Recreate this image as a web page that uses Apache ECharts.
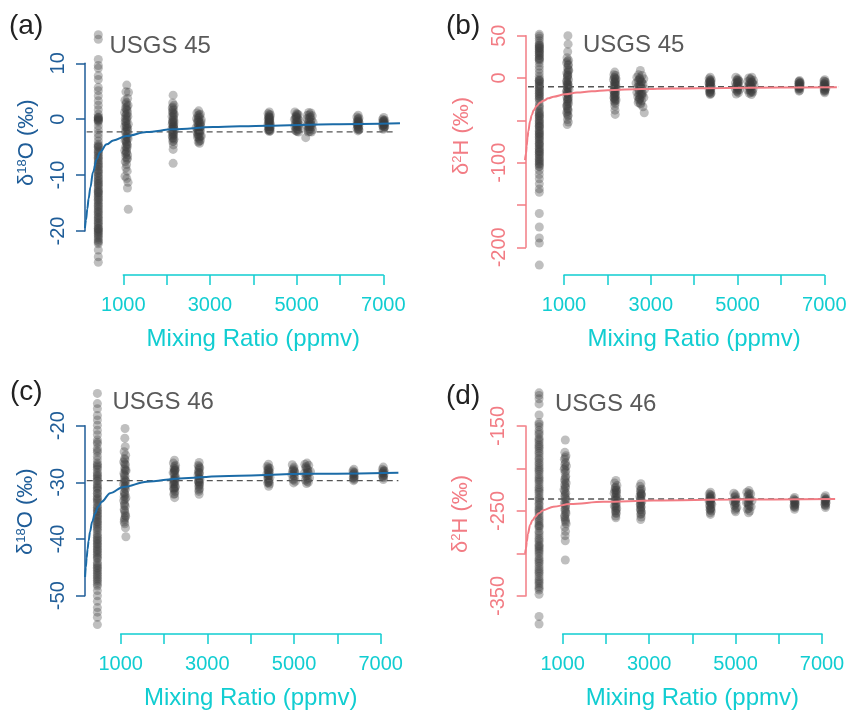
<!DOCTYPE html>
<html><head><meta charset="utf-8">
<script src="https://cdn.jsdelivr.net/npm/echarts@6/dist/echarts.min.js"></script>
<style>html,body{margin:0;padding:0;background:#fff}#c{width:851px;height:714px}</style>
</head><body><div id="c"></div>
<script>
// ---------------- DATA ----------------
const xTickLabels = [1000, 3000, 5000, 7000];
const yLabelsA = [10, 0, -10, -20];
const yLabelsB = [50, 0, -100, -200];
const yLabelsC = [-20, -30, -40, -50];
const yLabelsD = [-150, -250, -350];

// Panel (a) USGS 45, d18O
const aX1 = 423;
const a1 = [15.1, 14.3, 10.7, 9.6, 9.1, 7.8, 7.1, 5.7, 5.1, 4.2, 3.3, 2.5, 1.7, 0.9, 0.4, 0.1, -0.2, 0.3, -0.5, -1.2, -1.9, -2.6, -3.2, -3.9, -4.5, -5.0, -5.4, -5.9, -6.5, -7.0, -7.6, -8.1, -8.6, -9.2, -9.7, -10.3, -10.9, -11.4, -11.8, -12.4, -12.9, -13.5, -14.0, -14.5, -15.1, -15.6, -16.2, -16.7, -17.3, -17.8, -18.4, -18.9, -19.5, -20.0, -20.4, -20.9, -21.5, -22.3, -23.4, -24.6, -25.6, -6.2, -8.4, -10.6, -12.7, -14.3, -16.5, -18.6, -19.8, -20.7, -0.1, -4.7,
  -0.3, 0.2, -4.9, -5.7, -6.8, -7.3, -7.9, -9.0, -9.5, -10.1, -11.1, -11.6, -12.1, -13.2, -13.8, -14.8, -15.4, -15.9, -17.0, -17.6, -18.1, -19.2, -19.6, -21.2, -21.8, -22.0, -20.2, -13.1];
const a2 = [[1080,6.1],[1120,4.8],[1060,4.9],[1100,3.7],[1040,3.4],[1075,3.0],[1110,2.5],[1050,2.0],[1090,1.6],[1030,1.2],[1070,0.9],[1105,0.5],[1045,0.1],[1085,-0.2],[1060,-0.6],[1115,-0.9],[1035,-1.3],[1075,-1.6],[1095,-2.0],[1050,-2.4],[1085,-2.8],[1065,-3.1],[1110,-3.5],[1040,-3.8],[1075,-4.2],[1095,-4.6],[1055,-4.9],[1080,-5.3],[1035,-5.6],[1070,-6.0],[1100,-6.4],[1060,-6.8],[1085,-7.2],[1045,-7.6],[1075,-8.1],[1060,-8.7],[1090,-9.3],[1040,-10.2],[1080,-10.6],[1110,-11.3],[1095,-12.3],[1115,-16.1],[1065,-1.0],[1090,-3.3],[1055,0.6],[1080,-4.5],[1070,1.8],
  [1060,2.7],[1095,1.1],[1045,-0.4],[1080,-1.3],[1105,-2.6],[1060,-3.6],[1085,-5.0],[1050,-6.2],[1095,-7.0],[1070,-4.0],[1080,0.2],[1100,-1.6],[1055,-2.1],[1075,-5.8],[1085,2.2]];
const a3 = [[2150,4.3],[2140,2.9],[2170,2.5],[2130,2.0],[2160,1.7],[2145,1.2],[2175,0.9],[2125,0.5],[2155,0.2],[2140,-0.2],[2170,-0.5],[2130,-0.9],[2160,-1.2],[2150,-1.5],[2120,-1.8],[2175,-2.0],[2140,-2.3],[2160,-2.7],[2130,-3.0],[2150,-3.3],[2170,-3.6],[2140,-4.0],[2155,-4.6],[2150,-5.4],[2150,-7.9],[2145,-0.6],[2165,-1.6],[2135,1.5],[2155,-2.4],
  [2145,2.2],[2160,0.6],[2135,-0.5],[2165,-1.0],[2145,-1.9],[2155,-2.9],[2140,-3.4],[2165,-0.1],[2150,1.0],[2135,-2.6],[2160,-3.9],[2150,-1.3]];
const a4 = [[2740,1.5],[2700,1.1],[2780,0.9],[2720,0.6],[2760,0.4],[2690,0.1],[2800,-0.1],[2740,-0.3],[2710,-0.6],[2770,-0.8],[2730,-1.1],[2790,-1.3],[2680,-1.5],[2750,-1.7],[2720,-1.9],[2780,-2.1],[2700,-2.3],[2760,-2.5],[2730,-2.8],[2800,-3.0],[2710,-3.2],[2750,-3.5],[2780,-3.8],[2730,-4.1],[2760,-4.3],[2720,-2.0],[2770,-1.0],[2745,-0.5],
  [2750,0.8],[2720,-0.2],[2770,-1.5],[2740,-2.2],[2715,-2.7],[2775,-3.0],[2745,-3.2],[2735,0.2],[2765,-2.0],[2725,-1.4],[2755,-3.9],[2790,-0.6]];
const a5 = [[4370,1.3],[4340,1.0],[4395,0.8],[4360,0.5],[4385,0.3],[4345,0.0],[4375,-0.2],[4355,-0.5],[4390,-0.7],[4340,-0.9],[4370,-1.1],[4395,-1.3],[4350,-1.5],[4380,-1.7],[4360,-1.9],[4345,-2.0],[4390,-2.1],[4370,-2.2],[4365,-0.3],[4375,-1.4],[4355,0.4],[4385,-0.9],
  [4365,0.8],[4380,-0.1],[4360,-0.8],[4385,-1.6],[4365,-1.8],[4375,0.2],[4355,-1.2],[4370,-0.6],[4380,-2.0],[4360,0.1]];
const a6 = [[4960,1.3],[5000,1.0],[5040,0.8],[4980,0.5],[5020,0.2],[4950,0.0],[5060,-0.2],[5000,-0.4],[4970,-0.7],[5040,-0.9],[5010,-1.1],[4960,-1.3],[5050,-1.5],[4990,-1.7],[5030,-1.9],[4970,-2.0],[5010,-2.2],[5045,-2.3],[4990,0.3],[5025,-0.6],
  [5000,0.6],[5020,-0.3],[4980,-1.0],[5010,-1.6],[4995,-2.1],[5030,-1.2],[4975,0.0],[5015,0.9]];
const a7 = [[5280,1.2],[5330,1.1],[5250,0.7],[5360,0.6],[5300,0.3],[5240,0.1],[5340,-0.1],[5280,-0.4],[5380,-0.6],[5260,-0.8],[5320,-1.0],[5230,-1.2],[5350,-1.4],[5290,-1.6],[5370,-1.9],[5250,-2.0],[5310,-2.2],[5340,-2.3],[5210,-3.3],[5300,-0.9],[5270,-1.8],
  [5300,0.8],[5320,-0.5],[5280,-1.1],[5310,-1.7],[5290,0.0],[5340,-1.0],[5270,-2.3],[5320,0.4],[5295,-1.4]];
const a8 = [[6420,0.7],[6390,0.4],[6440,0.2],[6410,-0.1],[6430,-0.3],[6395,-0.5],[6445,-0.7],[6415,-0.9],[6400,-1.1],[6435,-1.3],[6420,-1.5],[6395,-1.7],[6440,-1.9],[6415,-2.1],[6425,-0.6],[6405,-1.2],
  [6420,0.1],[6410,-0.8],[6425,-1.6],[6420,-1.0],[6415,-0.4],[6430,-1.9]];
const a9 = [[7010,0.3],[6985,0.0],[7035,-0.2],[7005,-0.4],[6990,-0.6],[7030,-0.8],[7010,-1.0],[6985,-1.2],[7035,-1.4],[7010,-1.6],[7000,-1.8],[7020,-0.5],[6995,-1.1],[7025,-1.3],
  [7010,-0.2],[7005,-0.8],[7015,-1.4],[7000,-0.3],[7020,-1.0]];
const aCurve = [[115,-19.5],[140,-18.0],[170,-16.0],[200,-14.2],[240,-12.2],[300,-9.5],[385,-7.2],[462,-5.9],[616,-4.5],[769,-3.8],[1077,-3.0],[1539,-2.3],[2154,-1.8],[3077,-1.4],[4315,-1.15],[5838,-0.9],[7385,-0.74]];
const aRef = -2.25;
const aRefX = [154, 7308];

// Panel (b) USGS 45, d2H
const bX1 = 431;
const b1 = [51.6, 49.5, 47, 44, 41, 38.5, 36, 34, 31.5, 29, 26.5, 24, 21, 18, 14, 10, 6, 2, -1, -4, -7, -10, -13, -16, -19, -22, -25, -28, -32, -36, -39, -42, -45, -48, -51, -54, -57, -60, -63, -66, -69, -72, -75, -78, -81, -84, -87, -90, -93, -96, -99, -102, -105, -109, -114, -119, -125, -131, -135, -160, -176, -189, -195, -221, 37, 30, 23, -6, -15, -21, -46, -56, -67, -79, -88, -98,
  39, 35, 27, 22, -3, -9, -12, -18, -24, -41, -44, -50, -53, -58, -62, -65, -70, -73, -77, -83, -86, -91, -95, -101, -104, -2.5, 32, -34];
const b2 = [[1090,50],[1095,40],[1085,31],[1070,24],[1105,21],[1060,18],[1095,15],[1080,12],[1110,9],[1065,6],[1090,3],[1075,0],[1105,-2],[1060,-4],[1085,-6],[1100,-8],[1070,-10],[1090,-12],[1115,-14],[1055,-16],[1080,-18],[1100,-20],[1065,-22],[1090,-25],[1075,-28],[1105,-30],[1060,-33],[1085,-36],[1095,-39],[1070,-42],[1090,-45],[1080,-49],[1100,-52],[1075,-55],[1085,-8],[1070,-15],[1095,-27],[1080,2],[1065,-40],[1100,10],[1085,-19],[1075,-33],
  [1080,20],[1095,7],[1070,-3],[1090,-11],[1080,-17],[1100,-23],[1075,-31],[1090,-37],[1085,4],[1070,-7],[1095,-44],[1080,-25],[1100,16]];
const b3 = [[2170,7],[2150,4],[2190,3],[2160,1],[2200,-1],[2140,-2],[2180,-4],[2165,-6],[2195,-8],[2150,-10],[2175,-12],[2205,-13],[2145,-15],[2185,-17],[2160,-19],[2190,-21],[2150,-23],[2175,-25],[2200,-26],[2160,-28],[2180,-30],[2170,-33],[2175,-38],[2180,-43],[2170,-9],[2185,-2],[2160,-16],[2175,-22],
  [2170,-5],[2180,-11],[2160,-20],[2175,-27],[2165,-14],[2185,-7],[2170,0],[2175,-18],[2160,-24]];
const b4 = [[2760,9],[2720,4],[2800,3],[2680,1],[2750,0],[2840,-1],[2710,-3],[2780,-4],[2660,-6],[2820,-7],[2740,-9],[2700,-11],[2790,-12],[2860,-13],[2730,-15],[2680,-17],[2810,-18],[2760,-20],[2700,-22],[2840,-23],[2740,-25],[2790,-27],[2710,-29],[2770,-31],[2820,-34],[2850,-41],[2760,-10],[2730,-20],[2790,-5],[2720,-26],
  [2750,-2],[2770,-8],[2730,-14],[2780,-16],[2750,-24],[2720,-8],[2800,-21],[2760,-30],[2740,-1],[2790,-19]];
const b5 = [[4370,1],[4345,-1],[4395,-2],[4360,-3.5],[4385,-5],[4340,-6],[4375,-7.5],[4355,-9],[4395,-10],[4365,-11.5],[4345,-13],[4385,-14],[4370,-15.5],[4355,-17],[4390,-18],[4370,-19.5],[4360,-8],[4380,-12],[4375,-4],
  [4365,-2.5],[4380,-6.5],[4360,-10.5],[4375,-13.5],[4365,-16.5],[4385,-9.5],[4355,-5.5],[4370,-18.5]];
const b6 = [[4960,1],[5010,-1],[4990,-3],[5040,-4],[4950,-6],[5000,-7],[5030,-9],[4970,-10],[5010,-12],[4950,-13],[5040,-14],[4990,-16],[5020,-17.5],[4970,-19],[5000,-5],[5010,-11],
  [4990,-2],[5010,-6],[4980,-8.5],[5000,-13.5],[4990,-15],[5020,-3]];
const b7 = [[5260,0],[5330,1],[5300,-2],[5370,-3],[5240,-4],[5340,-5],[5290,-7],[5380,-8],[5250,-9],[5320,-10],[5280,-12],[5360,-13],[5230,-14],[5310,-15],[5350,-17],[5270,-18],[5320,-19.5],[5300,-11],[5340,-6],
  [5300,-1],[5320,-4.5],[5280,-6],[5310,-9],[5290,-14],[5330,-16],[5300,-17],[5270,-10]];
const b8 = [[6430,-3],[6410,-4.5],[6450,-5.5],[6425,-7],[6405,-8],[6445,-9],[6420,-10.5],[6440,-12],[6410,-13],[6430,-14.5],[6420,-15.5],[6435,-6],[6415,-11],
  [6425,-4],[6430,-8.5],[6420,-12.5],[6430,-10],[6425,-6.5]];
const b9 = [[7010,-2],[6990,-3.5],[7030,-5],[7000,-6.5],[7025,-8],[6985,-9],[7015,-10.5],[7035,-12],[6995,-13],[7020,-14.5],[7005,-16],[7010,-17.5],[7000,-7],[7020,-11],
  [7010,-4],[7005,-9.5],[7015,-13.5],[7010,-8],[7000,-15]];
const bCurve = [[101,-97],[125,-89],[141,-80],[160,-70],[178,-63],[217,-51],[256,-44],[300,-38],[371,-33],[450,-29],[523,-27],[640,-24],[760,-22],[1024,-19.2],[1300,-17.2],[1640,-15.6],[2000,-14.4],[2800,-13.0],[3500,-12.3],[4700,-11.7],[6000,-11.2],[7290,-10.9]];
const bRef = -10.3;
const bRefX = [170, 7318];

// Panel (c) USGS 46, d18O
const cX1 = 462;
const c1 = [-14.3, -16.1, -17.0, -18.2, -19.0, -19.9, -20.8, -21.6, -22.5, -23.2, -24.0, -24.7, -25.4, -26.0, -26.6, -27.1, -27.7, -28.2, -28.8, -29.3, -29.8, -30.3, -30.9, -31.4, -31.9, -32.5, -33.0, -33.6, -34.1, -34.7, -35.2, -35.8, -36.3, -36.9, -37.4, -38.0, -38.6, -39.1, -39.7, -40.2, -40.8, -41.3, -41.9, -42.4, -43.0, -43.5, -44.1, -44.7, -45.2, -45.8, -46.4, -47.0, -47.6, -48.3, -49.1, -50.0, -51.0, -52.1, -52.9, -53.8, -55.1, -27.4, -29.0, -30.6, -33.3, -35.5, -37.7, -40.5, -42.7, -45.5, -47.3,
  -26.9, -28.5, -29.6, -31.1, -32.0, -32.8, -34.4, -35.0, -36.0, -36.6, -37.1, -38.3, -39.4, -40.0, -41.0, -41.6, -42.1, -43.3, -44.4, -45.0, -46.1, -46.7, -48.0, -24.4, -22.9];
const c2 = [[1100,-20.5],[1095,-22.2],[1105,-23.7],[1080,-24.6],[1115,-25.2],[1090,-25.8],[1070,-26.4],[1110,-26.9],[1095,-27.4],[1125,-27.9],[1075,-28.4],[1100,-28.9],[1085,-29.4],[1115,-29.8],[1065,-30.3],[1095,-30.7],[1110,-31.2],[1080,-31.7],[1100,-32.2],[1120,-32.7],[1070,-33.2],[1090,-33.7],[1105,-34.2],[1080,-34.8],[1100,-35.4],[1115,-36.0],[1085,-36.6],[1095,-37.3],[1110,-38.0],[1120,-39.6],[1090,-30.0],[1105,-28.0],[1080,-32.5],[1100,-26.0],[1090,-35.0],
  [1090,-26.7],[1100,-27.7],[1085,-28.7],[1105,-29.6],[1095,-31.0],[1090,-31.9],[1100,-33.0],[1085,-34.0],[1105,-35.8],[1095,-36.3],[1080,-37.0],[1110,-30.5]];
const c3 = [[2240,-26.1],[2215,-26.6],[2265,-27.0],[2230,-27.5],[2255,-27.9],[2210,-28.3],[2245,-28.7],[2270,-29.1],[2225,-29.5],[2250,-29.9],[2215,-30.3],[2260,-30.7],[2235,-31.1],[2250,-31.6],[2225,-32.1],[2245,-32.7],[2240,-28.0],[2230,-30.0],[2255,-29.4],[2220,-31.0],[2260,-27.6],
  [2240,-27.2],[2235,-28.3],[2250,-29.2],[2240,-30.3],[2230,-31.3],[2245,-27.8],[2255,-30.9],[2235,-29.7],[2245,-32.0]];
const c4 = [[2810,-26.5],[2790,-27.0],[2825,-27.4],[2800,-27.9],[2820,-28.3],[2785,-28.7],[2810,-29.1],[2830,-29.5],[2795,-29.9],[2815,-30.3],[2800,-30.7],[2820,-31.1],[2805,-31.6],[2810,-32.1],[2795,-28.2],[2820,-30.0],[2805,-29.3],
  [2805,-27.2],[2810,-28.5],[2800,-29.6],[2815,-30.5],[2805,-31.3],[2810,-27.6],[2800,-30.0]];
const c5 = [[4410,-26.8],[4380,-27.2],[4440,-27.5],[4400,-27.9],[4430,-28.2],[4375,-28.5],[4415,-28.8],[4445,-29.1],[4395,-29.4],[4425,-29.7],[4405,-30.0],[4435,-30.3],[4415,-30.7],[4420,-28.0],[4400,-29.0],[4390,-30.1],
  [4410,-27.4],[4415,-28.3],[4405,-29.2],[4420,-30.0],[4410,-28.6],[4400,-27.7]];
const c6 = [[4960,-26.9],[5000,-27.3],[4980,-27.8],[5020,-28.2],[4950,-28.6],[5010,-29.0],[4975,-29.4],[5030,-29.8],[4990,-30.1],[5000,-28.4],[4970,-28.0],
  [4990,-27.6],[5000,-28.8],[4985,-29.6],[5010,-28.0]];
const c7 = [[5250,-26.8],[5300,-26.6],[5340,-27.0],[5270,-27.4],[5320,-27.8],[5380,-28.1],[5240,-28.4],[5300,-28.8],[5360,-29.2],[5260,-29.6],[5330,-30.0],[5290,-30.2],[5310,-28.2],[5280,-29.0],
  [5300,-27.6],[5290,-28.5],[5320,-29.4],[5300,-29.8],[5330,-28.3],[5280,-27.2]];
const c8 = [[6380,-27.7],[6360,-28.0],[6395,-28.3],[6375,-28.6],[6390,-28.9],[6365,-29.2],[6385,-29.5],[6375,-29.7],[6380,-28.5],
  [6375,-28.2],[6385,-29.0],[6380,-29.3]];
const c9 = [[7060,-27.3],[7040,-27.7],[7080,-28.0],[7055,-28.3],[7075,-28.6],[7045,-28.9],[7065,-29.2],[7060,-29.5],[7050,-28.4],[7070,-27.9],
  [7060,-28.1],[7065,-28.8],[7055,-29.0]];
const cCurve = [[178,-46.7],[195,-45.0],[215,-43.3],[235,-41.8],[260,-40.3],[293,-38.7],[340,-37.0],[408,-35.5],[480,-34.3],[563,-33.4],[755,-31.9],[1062,-30.8],[1602,-29.9],[2370,-29.3],[3293,-28.9],[5370,-28.5],[7408,-28.3]];
const cRef = -29.7;
const cRefX = [217, 7408];

// Panel (d) USGS 46, d2H
const dX1 = 453;
const d1 = [-111, -114, -118, -124, -137, -146, -151, -155, -160, -164, -168, -173, -177, -182, -185, -190, -193, -198, -202, -207, -210, -214, -219, -222, -226, -231, -234, -238, -243, -246, -250, -255, -258, -262, -267, -270, -274, -279, -282, -286, -291, -294, -298, -303, -306, -310, -315, -318, -322, -327, -330, -334, -339, -343, -348, -374, -383, -175, -200, -228, -236, -260, -268, -292, -300, -320,
  -148, -158, -166, -171, -180, -188, -195, -204, -212, -216, -224, -241, -248, -252, -265, -276, -284, -289, -296, -308, -312, -324, -332, -336, -341];
const d2 = [[1060,-166.5],[1050,-181],[1075,-185],[1040,-189],[1065,-193],[1085,-197],[1035,-201],[1055,-205],[1070,-209],[1045,-213],[1080,-217],[1060,-221],[1030,-225],[1070,-229],[1050,-233],[1085,-237],[1040,-241],[1065,-245],[1055,-249],[1075,-253],[1045,-257],[1060,-261],[1080,-265],[1050,-269],[1065,-274],[1055,-279],[1060,-285],[1060,-307.6],[1055,-231],[1070,-243],[1045,-219],[1065,-211],[1050,-255],
  [1060,-187],[1050,-199],[1070,-203],[1055,-215],[1065,-223],[1050,-227],[1065,-235],[1055,-239],[1070,-251],[1060,-259],[1055,-247],[1065,-263],[1050,-195]];
const d3 = [[2230,-214],[2200,-217],[2255,-220],[2215,-223],[2245,-226],[2190,-229],[2230,-232],[2260,-235],[2210,-238],[2240,-241],[2195,-244],[2250,-247],[2220,-250],[2240,-253],[2225,-256],[2230,-258],[2215,-236],[2245,-230],[2235,-244],[2205,-226],
  [2225,-222],[2235,-228],[2220,-234],[2240,-237],[2225,-242],[2235,-249],[2220,-246],[2230,-252],[2240,-225]];
const d4 = [[2810,-218],[2790,-221],[2825,-224],[2800,-227],[2820,-230],[2785,-233],[2810,-236],[2830,-239],[2795,-242],[2815,-245],[2800,-248],[2825,-251],[2805,-254],[2815,-257],[2805,-260],[2800,-238],[2820,-232],[2810,-246],
  [2805,-225],[2815,-231],[2800,-235],[2810,-241],[2805,-249],[2815,-253],[2800,-243],[2810,-229]];
const d5 = [[4420,-228],[4390,-230],[4445,-232],[4405,-234],[4435,-236],[4385,-238],[4420,-240],[4450,-242],[4400,-244],[4430,-246],[4410,-248],[4440,-250],[4415,-252],[4420,-254],[4405,-239],[4430,-241],
  [4415,-233],[4420,-237],[4410,-243],[4425,-247],[4415,-249],[4420,-231],[4410,-235]];
const d6 = [[4960,-229],[5000,-231],[4980,-234],[5020,-236],[4950,-239],[5010,-241],[4975,-244],[5030,-246],[4990,-249],[5000,-251],[4985,-238],
  [4990,-233],[5000,-237],[4985,-242],[5005,-247],[4995,-240]];
const d7 = [[5260,-228],[5310,-226],[5350,-230],[5280,-233],[5330,-235],[5380,-238],[5250,-240],[5300,-243],[5360,-245],[5270,-248],[5330,-250],[5300,-252],[5320,-237],[5290,-241],
  [5300,-231],[5310,-236],[5290,-239],[5320,-244],[5300,-247],[5310,-229]];
const d8 = [[6365,-234],[6345,-236],[6385,-238],[6360,-240],[6380,-242],[6350,-244],[6370,-246],[6365,-248],[6375,-241],
  [6365,-239],[6370,-243],[6360,-237],[6368,-245]];
const d9 = [[7080,-232],[7060,-234],[7100,-236],[7075,-238],[7095,-240],[7065,-242],[7085,-244],[7080,-246],[7070,-239],
  [7080,-236],[7085,-241],[7075,-243],[7080,-237]];
const dCurve = [[130,-300],[150,-294],[170,-286],[195,-277],[245,-266.5],[300,-261],[361,-257],[450,-252.5],[553,-249],[784,-245],[1171,-241.8],[1941,-239.2],[3098,-237.6],[5000,-236.6],[7304,-235.9]];
const dRef = -235.9;
const dRefX = [199, 7371];

// ---------------- STYLE / LAYOUT ----------------
const FONT = "'Liberation Sans', Arial, Helvetica, sans-serif";
const BLUE_AXIS = '#1f5d98';
const BLUE_LINE = '#1b6ba7';
const PINK = '#f27c84';
const CYAN = '#11cdd1';
const X_MAX = 7500;

const panels = [
  {label:'(a)', title:'USGS 45', axisColor:BLUE_AXIS, lineColor:BLUE_LINE, sup:'18', el:'O',
   x1:aX1, g1:a1, groups:[a2,a3,a4,a5,a6,a7,a8,a9], curve:aCurve, ref:aRef, refX:aRefX,
   yMin:-20, yMax:10, yInt:10, yLabels:yLabelsA, dataY:[-30,20],
   L:{x1000:123.3, x7000:383.3, xAxisY:275, yAxisX:85, yTopPx:63.3, yBotPx:231, gapY:47, namePad:[0,0,0,9], lab:[9,12], tit:[109.5,34]}},
  {label:'(b)', title:'USGS 45', axisColor:PINK, lineColor:PINK, sup:'2', el:'H',
   x1:bX1, g1:b1, groups:[b2,b3,b4,b5,b6,b7,b8,b9], curve:bCurve, ref:bRef, refX:bRefX,
   yMin:-200, yMax:50, yInt:50, yLabels:yLabelsB, dataY:[-250,80],
   L:{x1000:564, x7000:824.3, xAxisY:275, yAxisX:526, yTopPx:35.7, yBotPx:247.3, gapY:53, namePad:[0,0,0,11], lab:[446,12], tit:[583,33]}},
  {label:'(c)', title:'USGS 46', axisColor:BLUE_AXIS, lineColor:BLUE_LINE, sup:'18', el:'O',
   x1:cX1, g1:c1, groups:[c2,c3,c4,c5,c6,c7,c8,c9], curve:cCurve, ref:cRef, refX:cRefX,
   yMin:-50, yMax:-20, yInt:10, yLabels:yLabelsC, dataY:[-60,-10],
   L:{x1000:120.7, x7000:380.7, xAxisY:634, yAxisX:85, yTopPx:425.7, yBotPx:595.7, gapY:48, namePad:[0,2,0,0], lab:[10,378], tit:[112.5,390.5]}},
  {label:'(d)', title:'USGS 46', axisColor:PINK, lineColor:PINK, sup:'2', el:'H',
   x1:dX1, g1:d1, groups:[d2,d3,d4,d5,d6,d7,d8,d9], curve:dCurve, ref:dRef, refX:dRefX,
   yMin:-350, yMax:-150, yInt:50, yLabels:yLabelsD, dataY:[-400,-100],
   L:{x1000:562.7, x7000:822, xAxisY:634, yAxisX:525.7, yTopPx:426, yBotPx:596, gapY:54, namePad:[0,6,0,0], lab:[446,382], tit:[555,392.5]}}
];

const grid = [], xAxis = [], yAxis = [], series = [], title = [];
panels.forEach((p, i) => {
  const L = p.L;
  const pxX = (L.x7000 - L.x1000) / 6000;
  const x0 = L.x1000 - 1000 * pxX;
  const pxY = (L.yBotPx - L.yTopPx) / (p.yMax - p.yMin);
  const gi = i * 3;
  grid.push({left: x0, top: L.yTopPx - (p.dataY[1] - p.yMax) * pxY, width: X_MAX * pxX,
             height: (p.dataY[1] - p.dataY[0]) * pxY, containLabel: false});
  xAxis.push({gridIndex: gi, type: 'value', min: 0, max: X_MAX, show: false});
  yAxis.push({gridIndex: gi, type: 'value', min: p.dataY[0], max: p.dataY[1], show: false});
  grid.push({left: L.x1000, top: L.xAxisY - 10, width: L.x7000 - L.x1000, height: 10});
  xAxis.push({gridIndex: gi + 1, type: 'value', min: 1000, max: 7000, interval: 1000, position: 'bottom',
    axisLine: {show: true, onZero: false, lineStyle: {color: CYAN, width: 1.5}},
    axisTick: {show: true, inside: false, length: 10, lineStyle: {color: CYAN, width: 1.5}},
    axisLabel: {show: true, margin: 20, fontSize: 20, color: CYAN, fontFamily: FONT,
      formatter: v => xTickLabels.includes(v) ? String(v) : ''},
    splitLine: {show: false},
    name: 'Mixing Ratio (ppmv)', nameLocation: 'middle', nameGap: 52,
    nameTextStyle: {fontSize: 24, color: CYAN, fontFamily: FONT}});
  yAxis.push({gridIndex: gi + 1, type: 'value', min: 0, max: 1, show: false});
  grid.push({left: L.yAxisX, top: L.yTopPx, width: 10, height: L.yBotPx - L.yTopPx});
  xAxis.push({gridIndex: gi + 2, type: 'value', min: 0, max: 1, show: false});
  yAxis.push({gridIndex: gi + 2, type: 'value', min: p.yMin, max: p.yMax, interval: p.yInt, position: 'left',
    axisLine: {show: true, onZero: false, lineStyle: {color: p.axisColor, width: 1.5}},
    axisTick: {show: true, inside: false, length: 9, lineStyle: {color: p.axisColor, width: 1.5}},
    axisLabel: {show: true, rotate: 90, margin: 17, fontSize: 20, color: p.axisColor, fontFamily: FONT,
      formatter: v => p.yLabels.includes(v) ? String(v) : ''},
    splitLine: {show: false},
    name: '{d|δ}{s|' + p.sup + '}{d|' + p.el + ' (‰)}', nameLocation: 'middle', nameGap: L.gapY, nameRotate: 90,
    nameTextStyle: {color: p.axisColor, fontFamily: FONT, fontSize: 22, padding: L.namePad,
      rich: {d: {fontSize: 22, color: p.axisColor, fontFamily: FONT},
             s: {fontSize: 13, color: p.axisColor, fontFamily: FONT, verticalAlign: 'top'}}}});

  const pts = p.g1.map(y => [p.x1, y]);
  p.groups.forEach(g => g.forEach(q => pts.push(q)));
  series.push({type: 'scatter', xAxisIndex: gi, yAxisIndex: gi, data: pts, symbol: 'circle', symbolSize: 9,
    itemStyle: {color: 'rgba(60,60,60,0.33)', opacity: 1}, silent: true, z: 2, clip: true});
  series.push({type: 'line', xAxisIndex: gi, yAxisIndex: gi, data: [[p.refX[0], p.ref], [p.refX[1], p.ref]],
    symbol: 'none', lineStyle: {color: '#555555', width: 1.3, type: [6, 4]}, silent: true, z: 3});
  series.push({type: 'line', xAxisIndex: gi, yAxisIndex: gi, data: p.curve, symbol: 'none', smooth: 0.35,
    smoothMonotone: 'x', lineStyle: {color: p.lineColor, width: 2}, silent: true, z: 4});

  title.push({text: p.label, left: L.lab[0], top: L.lab[1], padding: 0,
    textStyle: {fontSize: 28, fontWeight: 'normal', color: '#222222', fontFamily: FONT}});
  title.push({text: p.title, left: L.tit[0], top: L.tit[1], padding: 0,
    textStyle: {fontSize: 24, fontWeight: 'normal', color: '#5a5a5a', fontFamily: FONT}});
});

const chart = echarts.init(document.getElementById('c'), null, {renderer: 'canvas'});
chart.setOption({
  animation: false,
  backgroundColor: '#ffffff',
  textStyle: {fontFamily: FONT},
  title, grid, xAxis, yAxis, series
});
</script></body></html>
